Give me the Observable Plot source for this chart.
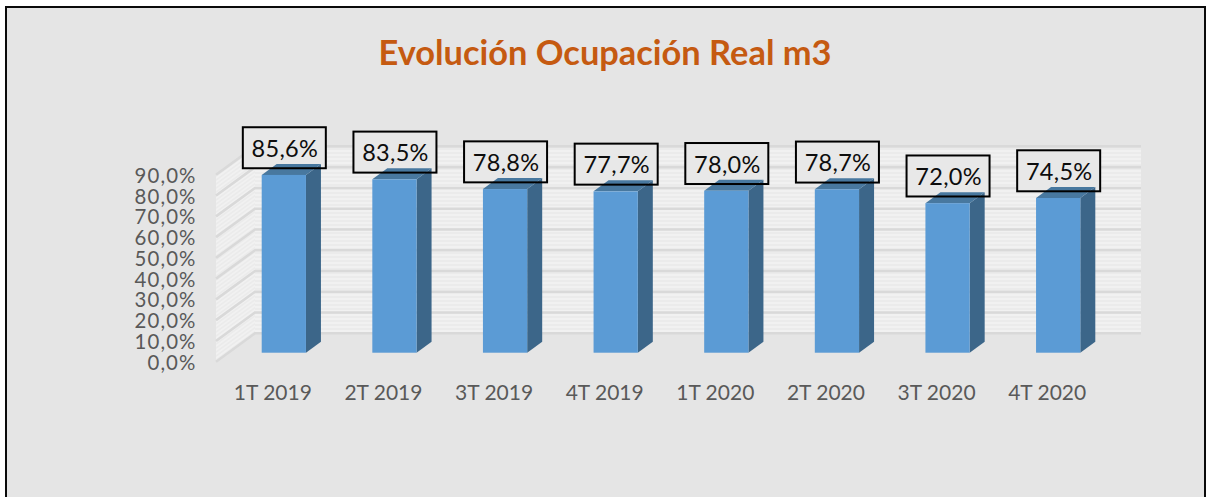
<!DOCTYPE html>
<html>
<head>
<meta charset="utf-8">
<script src="https://cdn.jsdelivr.net/npm/d3@7"></script>
<script src="https://cdn.jsdelivr.net/npm/@observablehq/plot@0.6"></script>
<style>
html,body{margin:0;padding:0;background:#fff;}
#page{position:relative;width:1206px;height:497px;overflow:hidden;font-family:Lato,sans-serif;}
#frame{position:absolute;left:5px;top:6px;width:1197px;height:491px;box-sizing:content-box;background:#e5e5e5;border-left:2px solid #0a0a0a;border-top:2px solid #0a0a0a;border-right:2px solid #0a0a0a;}
#title{position:relative;height:90px;width:1210px;text-align:center;font:700 34.4px Lato,sans-serif;color:#c55a11;line-height:103px;}
#chart{position:relative;}
svg{display:block;}
svg [aria-label="y-axis tick label"]{letter-spacing:1.1px;}
svg .lbl{letter-spacing:.3px;}
</style>
</head>
<body>
<div id="page">
<div id="frame"></div>
<div id="title">Evolución Ocupación Real m3</div>
<div id="chart"></div>
</div>
<script>
const categories = ["1T 2019","2T 2019","3T 2019","4T 2019","1T 2020","2T 2020","3T 2020","4T 2020"];
const values = [85.6,83.5,78.8,77.7,78.0,78.7,72.0,74.5];
const labels = ["85,6%","83,5%","78,8%","77,7%","78,0%","78,7%","72,0%","74,5%"];
const yTicks = [0,10,20,30,40,50,60,70,80,90];
const rows = categories.map((c,i)=>({c,v:values[i],t:labels[i]}));

const fmt = d => d.toFixed(1).replace(".",",")+"%";
const barDepth = {x:15,y:-11};
const wall = {front:9,back:-19.4,left:216,right:1141,backX:255};
const box = {w:83,h:41,gap:6.7};
const colors = {front:"#5b9bd5",side:"#3c6689",top:"#48789f",grid:"#d9d9d9"};

function svgEl(name, attrs, parent){
  const e = document.createElementNS("http://www.w3.org/2000/svg", name);
  for (const k in attrs) e.setAttribute(k, attrs[k]);
  if (parent) parent.appendChild(e);
  return e;
}
// back wall and side wall, positioned from the y scale
function wallMark(index, {y}){
  const g = svgEl("g",{});
  const defs = svgEl("defs",{},g);
  const mk = (id,tr)=>{
    const p = svgEl("pattern",{id,width:6,height:4,patternUnits:"userSpaceOnUse",patternTransform:tr},defs);
    svgEl("rect",{width:6,height:4,fill:"#ebebeb"},p);
    svgEl("rect",{width:6,height:2,fill:"#f1f1f1"},p);
  };
  mk("stripeBack","translate(0,0)");
  mk("stripeSide","skewY(-36)");
  const y0=y(0), y9=y(90);
  svgEl("rect",{x:wall.backX,y:y9+wall.back,width:wall.right-wall.backX,height:y0-y9,fill:"url(#stripeBack)"},g);
  svgEl("polygon",{points:[[wall.left,y0+wall.front],[wall.backX,y0+wall.back],[wall.backX,y9+wall.back],[wall.left,y9+wall.front]].join(" "),fill:"url(#stripeSide)"},g);
  for (const t of yTicks){
    const yy=y(t);
    svgEl("path",{d:`M${wall.left},${yy+wall.front}L${wall.backX},${yy+wall.back}L${wall.right},${yy+wall.back}`,fill:"none",stroke:colors.grid,"stroke-width":2.6},g);
  }
  return g;
}
function boxFill(index,{x,y}){
  const g = svgEl("g",{});
  for (const i of index){
    const d=rows[i], cx=x(d.c)+x.bandwidth()/2+.5;
    svgEl("rect",{x:cx-box.w/2,y:y(d.v)-box.gap-box.h,width:box.w,height:box.h,fill:"#e8e8e8"},g);
  }
  return g;
}
function boxStroke(index,{x,y}){
  const g = svgEl("g",{});
  for (const i of index){
    const d=rows[i], cx=x(d.c)+x.bandwidth()/2+.5;
    svgEl("rect",{x:cx-box.w/2,y:y(d.v)-box.gap-box.h,width:box.w,height:box.h,fill:"none",stroke:"#000","stroke-width":2},g);
  }
  return g;
}
// side and top faces of each column
function faces(index,{x,y}){
  const g = svgEl("g",{});
  const {x:dx,y:dy}=barDepth;
  for (const i of index){
    const d=rows[i], l=x(d.c), r=l+x.bandwidth(), t=y(d.v), b=y(0);
    svgEl("polygon",{points:[[r,b],[r+dx,b+dy],[r+dx,t+dy],[r,t]].join(" "),fill:colors.side},g);
    svgEl("polygon",{points:[[l,t],[l+dx,t+dy],[r+dx,t+dy],[r,t]].join(" "),fill:colors.top},g);
  }
  return g;
}
const idx = (mark)=>(index,scales,v,dim,ctx)=>mark(rows.map((_,i)=>i),scales);

const plot = Plot.plot({
  width:1206,height:407,
  marginLeft:198,marginRight:0,marginTop:0,marginBottom:122,
  style:{background:"transparent",color:"#595959",fontFamily:"Lato,sans-serif",overflow:"visible"},
  x:{type:"band",domain:categories,range:[261.7,1080.3],paddingInner:0.6,paddingOuter:0,align:0,round:false,label:null},
  y:{domain:[0,90],range:[262.7,75.8],label:null},
  marks:[
    idx(wallMark),
    Plot.axisY({anchor:"left",ticks:yTicks,tickFormat:fmt,tickSize:0,tickPadding:2,dy:10,fontSize:20.4,label:null}),
    Plot.axisX({anchor:"bottom",tickSize:0,tickPadding:10,dx:-11.5,fontSize:21,label:null}),
    idx(boxFill),
    idx(faces),
    Plot.barY(rows,{x:"c",y:"v",fill:colors.front}),
    idx(boxStroke),
    Plot.text(rows,{x:"c",y:"v",text:"t",dy:-26.2,dx:.5,fontSize:23.5,fill:"#0d0d0d",textAnchor:"middle",className:"lbl"})
  ]
});
document.getElementById("chart").appendChild(plot);
</script>
</body>
</html>
